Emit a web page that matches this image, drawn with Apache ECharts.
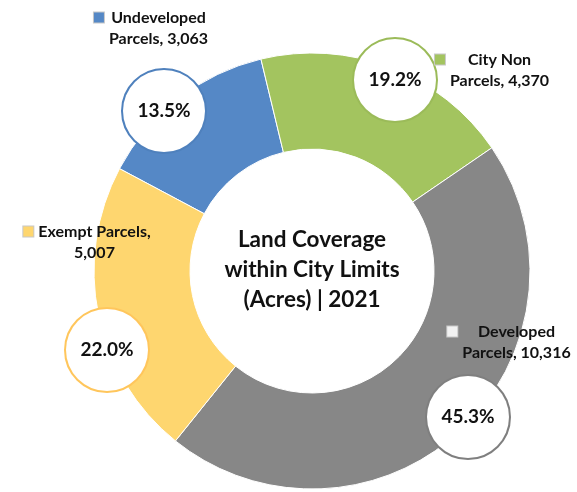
<!DOCTYPE html>
<html>
<head>
<meta charset="utf-8">
<script src="https://cdn.jsdelivr.net/npm/echarts@6/dist/echarts.min.js"></script>
<style>
  html, body { margin: 0; padding: 0; background: #fff; }
  #chart { width: 577px; height: 492px; }
</style>
</head>
<body>
<div id="chart"></div>
<script>
// slice names ('\n' marks where the label wraps) and acreage
const categories = ['Undeveloped\nParcels', 'City Non\nParcels', 'Developed\nParcels', 'Exempt Parcels']
const values = [3063, 4370, 10316, 5007]
const chartTitle = 'Land Coverage\nwithin City Limits\n(Acres) | 2021'

const colors = ['#5588C6', '#A3C45F', '#878787', '#FED66F']
const ringColors = ['#4F81BD', '#9BBB59', '#7F7F7F', '#FFC65C']
const keyColors = ['#5588C6', '#A3C45F', '#F2F2F2', '#FED66F']

// hand placed label spots (excel "best fit" callouts)
const bubblePos = [[164, 111], [395, 80], [468, 417], [107, 350]]
const namePos = [[151, 28], [492, 70], [509, 342], [87, 242]]

const total = values.reduce((a, b) => a + b, 0)
const fmt = v => v.toLocaleString('en-US')
const font = 'Lato, "Open Sans", sans-serif'

const chart = echarts.init(document.getElementById('chart'))

const nameRich = {
  g: { width: 5, height: 10, align: 'left' },
  p: { width: 15, height: 10, align: 'left' },
  t: { fontFamily: font, fontWeight: 'bold', fontSize: 16, color: '#111', lineHeight: 21, align: 'center' },
}
keyColors.forEach((c, i) => {
  nameRich['m' + i] = { width: 10, height: 10, align: 'left', backgroundColor: c, borderColor: '#C8C8C8', borderWidth: 1 }
})

chart.setOption({
  animation: false,
  graphic: [{
    type: 'text',
    x: 312,
    y: 270,
    style: {
      text: chartTitle,
      fontFamily: font,
      fontWeight: 'bold',
      fontSize: 22.5,
      lineHeight: 30,
      fill: '#111',
      align: 'center',
      verticalAlign: 'middle',
    },
    z: 10,
  }],
  series: [
    {
      type: 'pie',
      center: [312, 271],
      radius: [122, 218],
      startAngle: 152,
      clockwise: true,
      silent: true,
      avoidLabelOverlap: false,
      itemStyle: { borderColor: '#fff', borderWidth: 1 },
      label: {
        show: true,
        position: 'inside',
        formatter: p => (p.value / total * 100).toFixed(1) + '%',
        fontFamily: font,
        fontWeight: 'bold',
        fontSize: 19,
        color: '#111',
        backgroundColor: '#fff',
        borderWidth: 2,
        width: 82,
        height: 82,
        lineHeight: 82,
        borderRadius: 43,
        align: 'center',
        verticalAlign: 'middle',
      },
      labelLine: { show: false },
      labelLayout: p => ({
        x: bubblePos[p.dataIndex][0],
        y: bubblePos[p.dataIndex][1],
        align: 'center',
        verticalAlign: 'middle',
      }),
      data: categories.map((n, i) => ({
        name: n,
        value: values[i],
        itemStyle: { color: colors[i] },
        label: { borderColor: ringColors[i] },
      })),
    },
    {
      type: 'pie',
      center: [312, 271],
      radius: [122, 218],
      startAngle: 152,
      clockwise: true,
      silent: true,
      avoidLabelOverlap: false,
      itemStyle: { color: 'rgba(0,0,0,0)', borderWidth: 0 },
      label: {
        show: true,
        position: 'inside',
        lineHeight: 21,
        formatter: p => {
          const parts = p.name.split('\n')
          const l1 = parts.length > 1 ? parts[0] : parts[0] + ','
          const l2 = parts.length > 1 ? parts[1] + ', ' + fmt(p.value) : fmt(p.value)
          return '{m' + p.dataIndex + '|}{g|}{t|' + l1 + '}\n{p|}{t|' + l2 + '}'
        },
        rich: nameRich,
      },
      labelLine: { show: false },
      labelLayout: p => ({
        x: namePos[p.dataIndex][0],
        y: namePos[p.dataIndex][1],
        align: 'center',
        verticalAlign: 'middle',
      }),
      data: categories.map((n, i) => ({ name: n, value: values[i] })),
    },
  ],
})
</script>
</body>
</html>
